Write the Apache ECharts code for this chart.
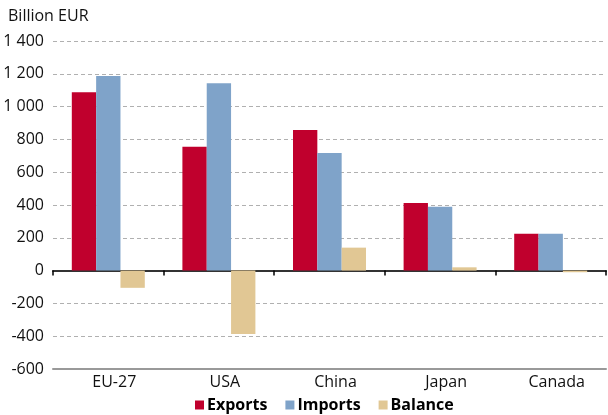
<!DOCTYPE html>
<html><head><meta charset="utf-8">
<script src="https://cdn.jsdelivr.net/npm/echarts@6/dist/echarts.min.js"></script>
<style>html,body{margin:0;padding:0;background:#fff}#c{width:608px;height:415px}</style>
</head><body><div id="c"></div>
<script>
const categories = ['EU-27', 'USA', 'China', 'Japan', 'Canada'];
const exportsData = [1088, 755, 857, 412, 224];
const importsData = [1186, 1142, 717, 390, 224];
const balanceData = [-105, -387, 140, 20, -10];
const yTicks = [-600, -400, -200, 0, 200, 400, 600, 800, 1000, 1200, 1400];

const FONT = '"Open Sans", "Noto Sans", sans-serif';
const chart = echarts.init(document.getElementById('c'), null, {renderer: 'canvas'});
function fmt(v){ const s = String(Math.abs(v)); const t = s.length > 3 ? s.slice(0, s.length-3) + ' ' + s.slice(-3) : s; return (v < 0 ? '-' : '') + t; }
chart.setOption({
  animation: false,
  backgroundColor: '#fff',
  textStyle: {fontFamily: FONT},
  title: {text: 'Billion EUR', left: 3, top: 3, textStyle: {fontFamily: FONT, fontSize: 16, fontWeight: 'normal', color: '#111'}},
  legend: {
    bottom: -3, left: 190, itemWidth: 9, itemHeight: 9, itemGap: 18, icon: 'rect',
    textStyle: {fontFamily: FONT, fontSize: 16, fontWeight: 'bold', color: '#000', padding: [0,0,0,-2]},
    data: ['Exports', 'Imports', 'Balance']
  },
  grid: {left: 53, right: 2, top: 41, bottom: 46},
  xAxis: [{
    type: 'category', data: categories,
    axisLine: {onZero: false, lineStyle: {color: '#999', width: 2}},
    axisTick: {show: false},
    axisLabel: {fontFamily: FONT, fontSize: 16, color: '#111', margin: 5, padding: [0, 0, 0, 12]}
  }, {
    type: 'category', data: categories, position: 'bottom',
    axisLine: {onZero: true, lineStyle: {color: '#333', width: 2}},
    axisTick: {show: true, length: 5, lineStyle: {color: '#000', width: 1.5}},
    axisLabel: {show: false}
  }],
  yAxis: {
    type: 'value', min: -600, max: 1400, interval: 200,
    axisLine: {show: false}, axisTick: {show: false},
    axisLabel: {fontFamily: FONT, fontSize: 16, color: '#111', margin: 9, formatter: v => fmt(v)},
    splitLine: {lineStyle: {color: '#b0b0b0', type: [4, 3], width: 1}}
  },
  series: [
    {name: 'Exports', type: 'bar', data: exportsData, barGap: '0%', barCategoryGap: '34%', itemStyle: {color: '#C0002D'}},
    {name: 'Imports', type: 'bar', data: importsData, barGap: '0%', barCategoryGap: '34%', itemStyle: {color: '#7FA3C9'}},
    {name: 'Balance', type: 'bar', data: balanceData, barGap: '0%', barCategoryGap: '34%', itemStyle: {color: '#E1C794'}}
  ]
});
</script></body></html>
